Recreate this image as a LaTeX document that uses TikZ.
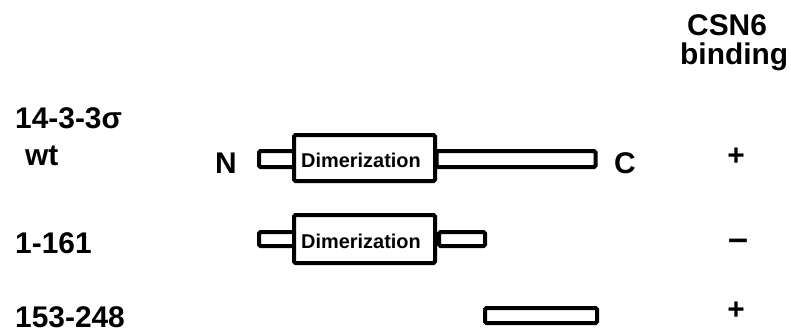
\documentclass[tikz,border=0pt]{standalone}
\usepackage{fontspec}
\setmainfont{Liberation Sans}
\begin{document}
\begin{tikzpicture}[x=1bp,y=-1bp,
  lbl/.style={font=\fontsize{30}{32}\selectfont\bfseries, inner sep=0pt},
  dimtxt/.style={font=\fontsize{20}{22}\selectfont\bfseries, inner sep=0pt},
  dimbox/.style={draw, line width=4bp, rounded corners=1.5bp, fill=white, inner sep=0pt},
  barbox/.style={draw, line width=4bp, rounded corners=1.5bp, fill=white, inner sep=0pt}
]
\useasboundingbox (0,0) rectangle (791,333);
% header
\node[lbl, anchor=base west] (csn) at (687,35) {CSN6};
\node[lbl, anchor=base west] (bind) at (680,64) {binding};
% row labels
\node[lbl, anchor=base west] (name) at (15,128) {14-3-3σ};
\node[lbl, anchor=base west] (wt) at (25,165) {wt};
\node[lbl, anchor=base west] (r2) at (15,253) {1-161};
\node[lbl, anchor=base west] (r3) at (15,327) {153-248};
% row 1
\node[barbox, minimum width=36bp, minimum height=16bp] (b1l) at (277,159) {};
\node[barbox, minimum width=159bp, minimum height=16bp] (b1r) at (516,159) {};
\node[dimbox, minimum width=141bp, minimum height=46bp] (d1) at (364.5,158) {};
\node[dimtxt] (t1) at (361,160) {Dimerization};
\node[lbl, anchor=base] (N) at (226,173) {N};
\node[lbl, anchor=base] (C) at (625,173) {C};
% row 2
\node[barbox, minimum width=36bp, minimum height=14bp] (b2l) at (277,239) {};
\node[barbox, minimum width=46bp, minimum height=14bp] (b2r) at (462,239) {};
\node[dimbox, minimum width=141bp, minimum height=48bp] (d2) at (364.5,239) {};
\node[dimtxt] (t2) at (361,241) {Dimerization};
% row 3
\node[barbox, minimum width=112bp, minimum height=15bp] (b3) at (541,315.5) {};
% binding results
\node[lbl, anchor=base] (p1) at (736,165) {+};
\node[lbl, anchor=base, font=\fontsize{36}{38}\selectfont\bfseries] (m2) at (738,250) {–};
\node[lbl, anchor=base] (p3) at (736,319) {+};
\end{tikzpicture}
\end{document}
